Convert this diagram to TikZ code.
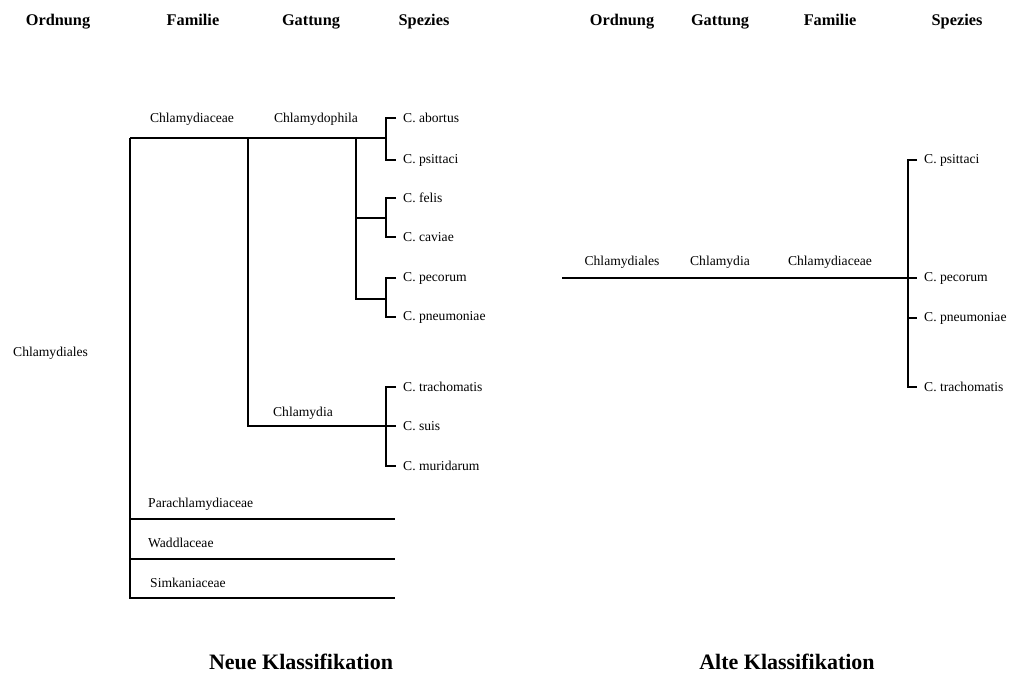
\documentclass[tikz,border=0pt]{standalone}
\usepackage{fontspec}
\setmainfont{Liberation Serif}
\usepackage{tikz}
\usetikzlibrary{positioning}

\begin{document}
\begin{tikzpicture}[x=1pt,y=-1pt,
    branch/.style={line width=2.4pt},
    thinbranch/.style={line width=1.1pt},
    taxon/.style={inner sep=1pt,font=\fontsize{13.6}{15}\selectfont},
    species/.style={taxon,anchor=west,inner xsep=7pt},
    rank/.style={inner sep=1pt,anchor=base,font=\fontsize{16.3}{18}\selectfont\bfseries},
    caption/.style={inner sep=1pt,anchor=base,font=\fontsize{22}{24}\selectfont\bfseries}]
    \useasboundingbox (0,0) rectangle (1013,673);
    % headers
    \foreach \x/\lab [count=\i] in {58/Ordnung,193/Familie,311/Gattung,424/Spezies,
        622/Ordnung,720/Gattung,830/Familie,957/Spezies}{
      \node[rank] (rank\i) at (\x,25) {\lab};}
    % new classification
    \node[taxon,anchor=west] (order) at (12,353) {Chlamydiales};
    \coordinate (ord) at (130,138);
    \coordinate (fam) at (248,138);
    \coordinate (gen) at (356,138);
    \coordinate (b1) at (386,138);
    \coordinate (b2) at (386,218);
    \coordinate (b3) at (386,299);
    \coordinate (b4) at (386,426);
    \coordinate (para) at (395,519);
    \coordinate (wadd) at (395,559);
    \coordinate (simk) at (395,598);
    \node[taxon] (chlamydiaceae) at (192,119) {Chlamydiaceae};
    \node[taxon] (chlamydophila) at (316,119) {Chlamydophila};
    \node[taxon] (chlamydia) at (303,413) {Chlamydia};
    \node[taxon,anchor=west] (parachl) at (147,504) {Parachlamydiaceae};
    \node[taxon,anchor=west] (waddl) at (147,543) {Waddlaceae};
    \node[taxon,anchor=west] (simkan) at (149,583) {Simkaniaceae};
    \node[species] (abo) at (396,118) {C. abortus};
    \node[species] (psi) at (396,160) {C. psittaci};
    \node[species] (fel) at (396,198) {C. felis};
    \node[species] (cav) at (396,237) {C. caviae};
    \node[species] (pec) at (396,278) {C. pecorum};
    \node[species] (pne) at (396,317) {C. pneumoniae};
    \node[species] (tra) at (396,387) {C. trachomatis};
    \node[species] (sui) at (396,426) {C. suis};
    \node[species] (mur) at (396,466) {C. muridarum};
    \draw[branch] (ord) -- (b1);
    \draw[branch] (ord) -- (ord |- simk) -- (simk);
    \draw[branch] (ord |- wadd) -- (wadd);
    \draw[thinbranch] (ord |- para) -- (para);
    \draw[branch] (fam) |- (b4);
    \draw[branch] (gen) |- (b3);
    \draw[branch] (gen |- b2) -- (b2);
    \draw[branch] (abo.west) -| (b1) |- (psi.west);
    \draw[branch] (fel.west) -| (b2) |- (cav.west);
    \draw[branch] (pec.west) -| (b3) |- (pne.west);
    \draw[branch] (tra.west) -| (b4) |- (mur.west);
    \draw[branch] (b4) -- (sui.west);
    % old classification
    \coordinate (rstart) at (562,278);
    \coordinate (rb) at (908,278);
    \node[taxon] (rorder) at (622,262) {Chlamydiales};
    \node[taxon] (rgenus) at (720,262) {Chlamydia};
    \node[taxon] (rfamily) at (830,262) {Chlamydiaceae};
    \node[species] (rpsi) at (917,160) {C. psittaci};
    \node[species] (rpec) at (917,278) {C. pecorum};
    \node[species] (rpne) at (917,318) {C. pneumoniae};
    \node[species] (rtra) at (917,387) {C. trachomatis};
    \draw[branch] (rstart) -- (rb);
    \draw[branch] (rpsi.west) -| (rb) |- (rtra.west);
    \draw[branch] (rb) -- (rpec.west);
    \draw[branch] (rb |- rpne) -- (rpne.west);
    % captions
    \node[caption] (neue) at (301,669) {Neue Klassifikation};
    \node[caption] (alte) at (787,669) {Alte Klassifikation};
\end{tikzpicture}
\end{document}
